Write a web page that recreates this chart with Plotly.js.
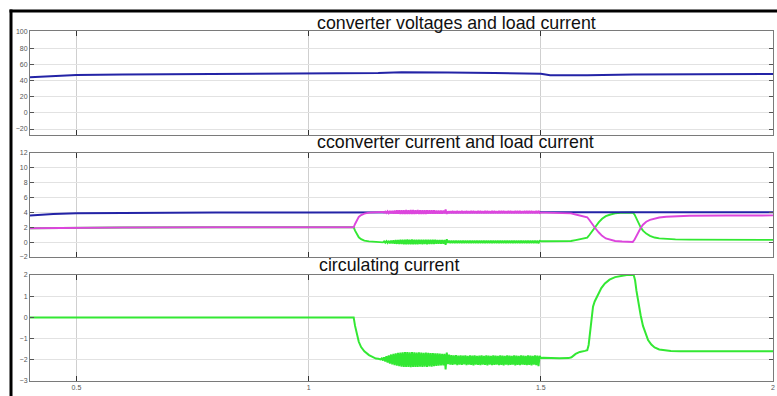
<!DOCTYPE html>
<html>
<head>
<meta charset="utf-8">
<script src="https://cdn.plot.ly/plotly-3.0.1.min.js"></script>
<style>html,body{margin:0;padding:0;background:#fff;}#chart{width:777px;height:396px;}</style>
</head>
<body>
<div id="chart"></div>
<script>
// ---------- data ----------
const titles = ["converter voltages and load current", "cconverter current and load current", "circulating current"];
const xTicks = [0.5, 1, 1.5, 2];
const xTickLabels = ["0.5", "1", "1.5", "2"];
const yTicks1 = [-20, 0, 20, 40, 60, 80, 100];
const yTicks2 = [-2, 0, 2, 4, 6, 8, 10, 12];
const yTicks3 = [-3, -2, -1, 0, 1, 2];

// panel 1: converter voltage
const tVolt = [0.4, 0.45, 0.5, 0.6, 0.8, 1.0, 1.1, 1.15, 1.2, 1.25, 1.3, 1.4, 1.48, 1.5, 1.52, 1.55, 1.6, 1.7, 1.8, 1.9, 2.0];
const vVolt = [44, 45.8, 46.8, 47.5, 48, 48.3, 48.5, 49.3, 50.2, 50.3, 50, 49.2, 48.6, 48.3, 46.5, 46.2, 46.5, 47.3, 47.8, 48, 48];

// panel 2: load current
const tLoad = [0.4, 0.42, 0.45, 0.5, 0.6, 0.8, 1.0, 1.5, 2.0];
const iLoad = [3.6, 3.68, 3.78, 3.88, 3.95, 3.99, 4.0, 4.0, 4.02];

// shared time samples of the ripple interval
const tRipple = [
  1.1500,1.1525,1.1550,1.1575,1.1600,1.1625,1.1650,1.1675,1.1700,1.1725,
  1.1750,1.1775,1.1800,1.1825,1.1850,1.1875,1.1900,1.1925,1.1950,1.1975,
  1.2000,1.2025,1.2050,1.2075,1.2100,1.2125,1.2150,1.2175,1.2200,1.2225,
  1.2250,1.2275,1.2300,1.2325,1.2350,1.2375,1.2400,1.2425,1.2450,1.2475,
  1.2500,1.2525,1.2550,1.2575,1.2600,1.2625,1.2650,1.2675,1.2700,1.2725,
  1.2750,1.2775,1.2800,1.2825,1.2850,1.2875,1.2900,1.2925,1.2950,1.2975,
  1.3000,1.3025,1.3050,1.3075,1.3100,1.3125,1.3150,1.3175,1.3200,1.3225,
  1.3250,1.3275,1.3300,1.3325,1.3350,1.3375,1.3400,1.3425,1.3450,1.3475,
  1.3500,1.3525,1.3550,1.3575,1.3600,1.3625,1.3650,1.3675,1.3700,1.3725,
  1.3750,1.3775,1.3800,1.3825,1.3850,1.3875,1.3900,1.3925,1.3950,1.3975,
  1.4000,1.4025,1.4050,1.4075,1.4100,1.4125,1.4150,1.4175,1.4200,1.4225,
  1.4250,1.4275,1.4300,1.4325,1.4350,1.4375,1.4400,1.4425,1.4450,1.4475,
  1.4500,1.4525,1.4550,1.4575,1.4600,1.4625,1.4650,1.4675,1.4700,1.4725,
  1.4750,1.4775,1.4800,1.4825,1.4850,1.4875,1.4900,1.4925,1.4950,1.4975,
  1.5000];

// converter 1 current (magenta)
const tConv1Pre = [0.4, 0.45, 0.5, 0.6, 0.8, 1.0, 1.097, 1.1, 1.104, 1.108, 1.113, 1.12, 1.13, 1.14, 1.145];
const iConv1Pre = [1.88, 1.93, 1.96, 1.98, 2.0, 2.0, 2.0, 2.45, 3.0, 3.4, 3.65, 3.85, 3.97, 4.0, 4.0];
const iConv1Ripple = [
  4.00,4.02,4.03,4.01,4.07,3.97,4.11,3.93,4.15,3.90,
  4.19,3.87,4.22,3.85,4.25,3.83,4.27,3.82,4.28,3.81,
  4.29,3.80,4.30,3.80,4.31,3.80,4.30,3.80,4.32,3.80,
  4.31,3.80,4.30,3.81,4.31,3.80,4.29,3.81,4.30,3.81,
  4.29,3.81,4.30,3.82,4.28,3.82,4.29,3.83,4.27,3.83,
  4.26,3.84,4.25,3.85,4.24,3.85,4.23,3.86,4.38,3.80,
  4.15,3.88,4.18,3.88,4.19,3.89,4.17,3.88,4.19,3.89,
  4.18,3.88,4.19,3.89,4.17,3.88,4.19,3.89,4.18,3.88,
  4.19,3.89,4.20,3.88,4.18,3.89,4.19,3.89,4.19,3.88,
  4.18,3.89,4.19,3.88,4.20,3.89,4.18,3.89,4.19,3.88,
  4.19,3.89,4.18,3.89,4.19,3.88,4.19,3.89,4.20,3.89,
  4.18,3.88,4.19,3.89,4.19,3.89,4.18,3.88,4.20,3.89,
  4.19,3.89,4.19,3.88,4.18,3.89,4.19,3.89,4.19,3.88,
  4.19,3.89,4.20,3.89,4.18,3.88,4.19,3.89,4.22,3.92,
  3.98];
const tConv1Post = [1.51, 1.53, 1.555, 1.565, 1.575, 1.585, 1.595, 1.6, 1.605, 1.61, 1.617, 1.625, 1.632, 1.64, 1.65, 1.66, 1.675, 1.69, 1.698, 1.702, 1.706, 1.71, 1.715, 1.72, 1.727, 1.735, 1.745, 1.755, 1.77, 1.79, 1.82, 1.9, 2.0];
const iConv1Post = [3.97, 3.95, 3.92, 3.87, 3.72, 3.58, 3.45, 3.35, 2.95, 2.45, 1.9, 1.3, 0.85, 0.5, 0.28, 0.16, 0.08, 0.04, 0.03, 0.35, 0.9, 1.45, 1.9, 2.35, 2.75, 3.0, 3.2, 3.32, 3.42, 3.5, 3.55, 3.58, 3.6];

// converter 2 current (green)
const tConv2Pre = [0.4, 0.45, 0.5, 0.6, 0.8, 1.0, 1.097, 1.1, 1.104, 1.108, 1.113, 1.12, 1.13, 1.14, 1.145];
const iConv2Pre = [1.88, 1.93, 1.96, 1.98, 2.0, 2.0, 2.0, 1.55, 1.0, 0.65, 0.4, 0.2, 0.1, 0.06, 0.05];
const iConv2Ripple = [
  0.05,0.03,0.02,0.06,-0.03,0.10,-0.07,0.14,-0.11,0.18,
  -0.15,0.22,-0.18,0.25,-0.21,0.27,-0.23,0.29,-0.25,0.31,
  -0.26,0.33,-0.27,0.34,-0.28,0.35,-0.27,0.34,-0.29,0.35,
  -0.28,0.34,-0.27,0.34,-0.28,0.34,-0.26,0.33,-0.27,0.33,
  -0.26,0.33,-0.27,0.32,-0.25,0.32,-0.26,0.31,-0.24,0.31,
  -0.23,0.30,-0.22,0.29,-0.22,0.28,-0.21,0.28,-0.36,0.38,
  -0.10,0.20,-0.12,0.21,-0.13,0.20,-0.11,0.21,-0.13,0.20,
  -0.12,0.21,-0.13,0.20,-0.11,0.21,-0.13,0.20,-0.12,0.21,
  -0.13,0.20,-0.12,0.21,-0.11,0.20,-0.13,0.21,-0.12,0.20,
  -0.11,0.21,-0.13,0.20,-0.12,0.21,-0.13,0.20,-0.11,0.21,
  -0.12,0.20,-0.13,0.21,-0.11,0.20,-0.12,0.21,-0.13,0.20,
  -0.11,0.21,-0.12,0.20,-0.13,0.21,-0.12,0.20,-0.11,0.21,
  -0.13,0.20,-0.12,0.21,-0.11,0.20,-0.13,0.21,-0.12,0.20,
  -0.12,0.21,-0.13,0.20,-0.12,0.21,-0.13,0.20,-0.16,0.16,
  0.12];
const tConv2Post = [1.51, 1.53, 1.555, 1.565, 1.575, 1.585, 1.595, 1.6, 1.605, 1.61, 1.617, 1.625, 1.632, 1.64, 1.65, 1.66, 1.672, 1.685, 1.698, 1.702, 1.706, 1.71, 1.715, 1.72, 1.727, 1.735, 1.745, 1.755, 1.77, 1.79, 1.82, 1.9, 2.0];
const iConv2Post = [0.12, 0.1, 0.12, 0.16, 0.28, 0.38, 0.45, 0.6, 1.0, 1.45, 2.05, 2.7, 3.15, 3.5, 3.72, 3.88, 3.96, 4.0, 4.0, 3.7, 3.15, 2.6, 2.0, 1.55, 1.15, 0.85, 0.62, 0.5, 0.42, 0.37, 0.34, 0.32, 0.3];

// panel 3: circulating current
const tCircPre = [0.4, 1.097, 1.1, 1.104, 1.108, 1.113, 1.12, 1.13, 1.14, 1.145];
const iCircPre = [0, 0, -0.4, -0.85, -1.15, -1.4, -1.6, -1.78, -1.9, -1.94];
const iCircRipple = [
  -1.95,-1.97,-1.98,-1.93,-2.03,-1.88,-2.08,-1.83,-2.13,-1.79,
  -2.18,-1.75,-2.22,-1.72,-2.25,-1.69,-2.28,-1.67,-2.30,-1.66,
  -2.32,-1.65,-2.33,-1.64,-2.34,-1.64,-2.33,-1.65,-2.35,-1.64,
  -2.34,-1.65,-2.33,-1.66,-2.34,-1.65,-2.32,-1.66,-2.33,-1.67,
  -2.32,-1.66,-2.33,-1.67,-2.31,-1.68,-2.32,-1.68,-2.30,-1.69,
  -2.29,-1.70,-2.28,-1.71,-2.27,-1.72,-2.26,-1.72,-2.45,-1.66,
  -2.20,-1.76,-2.23,-1.78,-2.24,-1.79,-2.22,-1.78,-2.25,-1.80,
  -2.23,-1.79,-2.24,-1.80,-2.22,-1.79,-2.25,-1.81,-2.23,-1.79,
  -2.24,-1.80,-2.26,-1.79,-2.23,-1.81,-2.24,-1.80,-2.25,-1.79,
  -2.23,-1.81,-2.24,-1.79,-2.26,-1.80,-2.23,-1.81,-2.25,-1.79,
  -2.24,-1.80,-2.23,-1.81,-2.25,-1.79,-2.24,-1.80,-2.26,-1.81,
  -2.23,-1.79,-2.25,-1.80,-2.24,-1.81,-2.23,-1.79,-2.26,-1.80,
  -2.24,-1.81,-2.25,-1.79,-2.23,-1.80,-2.24,-1.81,-2.25,-1.79,
  -2.24,-1.80,-2.26,-1.81,-2.23,-1.79,-2.25,-1.80,-2.30,-1.82,
  -1.92];
const tCircPost = [1.505, 1.52, 1.54, 1.56, 1.566, 1.575, 1.584, 1.595, 1.6, 1.603, 1.6053, 1.609, 1.6124, 1.616, 1.6196, 1.625, 1.6303, 1.638, 1.648, 1.66, 1.673, 1.685, 1.7, 1.703, 1.706, 1.71, 1.715, 1.72, 1.725, 1.731, 1.738, 1.745, 1.755, 1.766, 1.78, 1.8, 1.85, 1.9, 2.0];
const iCircPost = [-1.9, -1.92, -1.93, -1.92, -1.88, -1.72, -1.63, -1.58, -1.55, -1.3, -0.92, -0.2, 0.51, 0.75, 0.91, 1.15, 1.38, 1.6, 1.78, 1.9, 1.97, 2.0, 2.0, 1.75, 1.25, 0.67, 0.1, -0.4, -0.75, -1.07, -1.28, -1.42, -1.51, -1.55, -1.58, -1.6, -1.6, -1.6, -1.6];

// ---------- styles ----------
const BLUE = '#2323a6', MAGENTA = '#dd45dd', GREEN = '#33e833';
const W = 777, H = 396;
const M = {l: 30, r: 4, t: 31, b: 15};
const plotH = H - M.t - M.b, plotW = W - M.l - M.r;
const py = px => (H - M.b - px) / plotH;   // pixel row -> paper y
const pxX = px => (px - M.l) / plotW;      // pixel col -> paper x

const traces = [
  {x: tVolt, y: vVolt, xaxis: 'x', yaxis: 'y', line: {color: BLUE, width: 2}},
  {x: tConv2Pre.concat(tRipple, tConv2Post), y: iConv2Pre.concat(iConv2Ripple, iConv2Post), xaxis: 'x2', yaxis: 'y2', line: {color: GREEN, width: 1.9}},
  {x: tLoad, y: iLoad, xaxis: 'x2', yaxis: 'y2', line: {color: BLUE, width: 2}},
  {x: tConv1Pre.concat(tRipple, tConv1Post), y: iConv1Pre.concat(iConv1Ripple, iConv1Post), xaxis: 'x2', yaxis: 'y2', line: {color: MAGENTA, width: 1.9}},
  {x: tCircPre.concat(tRipple, tCircPost), y: iCircPre.concat(iCircRipple, iCircPost), xaxis: 'x3', yaxis: 'y3', line: {color: GREEN, width: 2}}
].map(t => Object.assign({type: 'scatter', mode: 'lines', hoverinfo: 'skip', showlegend: false}, t));

const tickFont = {family: 'Liberation Sans, Arial, sans-serif', size: 7, color: '#555'};
function xa(showLabels, anchor) {
  return {range: [0.4, 2], tickvals: xTicks, ticktext: xTickLabels, showticklabels: showLabels,
    ticks: 'inside', ticklen: 5, tickcolor: '#333', tickwidth: 1, showgrid: true, gridcolor: '#cfcfcf', gridwidth: 1,
    showline: true, linecolor: '#7a7a7a', linewidth: 1, mirror: 'ticks', zeroline: false, anchor: anchor,
    tickfont: tickFont, fixedrange: true};
}
function ya(range, ticks, domain, anchor) {
  return {range: range, tickvals: ticks, domain: domain, anchor: anchor,
    ticks: 'inside', ticklen: 4, tickcolor: '#555', tickwidth: 1, showgrid: true, gridcolor: '#e2e2e2', gridwidth: 1,
    showline: true, linecolor: '#7a7a7a', linewidth: 1, mirror: 'ticks', zeroline: false,
    tickfont: tickFont, fixedrange: true};
}

const titleFont = {family: 'Liberation Sans, Arial, sans-serif', size: 17.8, color: '#111'};
const layout = {
  width: W, height: H, margin: M, paper_bgcolor: '#fff', plot_bgcolor: '#fff', showlegend: false,
  xaxis: xa(false, 'y'), xaxis2: Object.assign(xa(false, 'y2'), {matches: 'x'}), xaxis3: Object.assign(xa(true, 'y3'), {matches: 'x'}),
  yaxis: ya([-27.4, 101.2], yTicks1, [py(135), 1], 'x'),
  yaxis2: ya([-2, 12], yTicks2, [py(257), py(153)], 'x2'),
  yaxis3: ya([-3, 2], yTicks3, [0, py(275)], 'x3'),
  annotations: [
    {text: titles[0], xref: 'paper', yref: 'paper', x: pxX(315), y: py(23), xanchor: 'left', yanchor: 'middle', showarrow: false, font: titleFont},
    {text: titles[1], xref: 'paper', yref: 'paper', x: pxX(315), y: py(142), xanchor: 'left', yanchor: 'middle', showarrow: false, font: titleFont},
    {text: titles[2], xref: 'paper', yref: 'paper', x: pxX(317), y: py(265), xanchor: 'left', yanchor: 'middle', showarrow: false, font: titleFont}
  ],
  shapes: [
    {type: 'line', xref: 'paper', yref: 'paper', x0: pxX(9.5), x1: pxX(777), y0: py(11), y1: py(11), line: {color: '#000', width: 3}},
    {type: 'line', xref: 'paper', yref: 'paper', x0: pxX(11), x1: pxX(11), y0: py(9.5), y1: py(396), line: {color: '#000', width: 3}}
  ]
};

Plotly.newPlot('chart', traces, layout, {staticPlot: true, displayModeBar: false});
</script>
</body>
</html>
